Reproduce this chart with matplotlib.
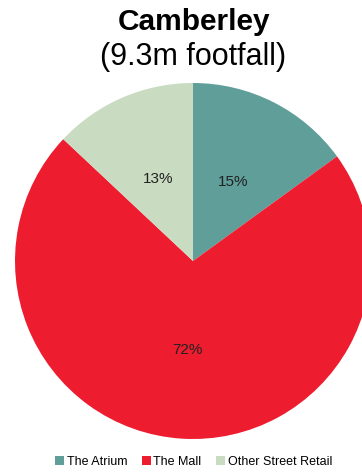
import matplotlib.pyplot as plt
from matplotlib.patches import Patch

segments = ['The Atrium', 'The Mall', 'Other Street Retail']
shares = [15, 72, 13]
colours = ['#5F9E99', '#EE1C2F', '#C9DCC1']

plt.rcParams['font.family'] = ['Liberation Sans', 'DejaVu Sans']

fig = plt.figure(figsize=(3.62, 4.72), dpi=100)
ax = fig.add_axes([0, 0, 1, 1])
ax.set_xlim(0, 362)
ax.set_ylim(0, 472)
ax.set_aspect('equal')

wedges, texts, autotexts = ax.pie(
    shares, colors=colours, startangle=90, counterclock=False,
    center=(193, 211), radius=178, autopct='%d%%', pctdistance=0.5,
    textprops={'fontsize': 11, 'color': '#222222'},
    wedgeprops={'linewidth': 0}, frame=True)
ax.axis('off')

fig.text(0.535, 1 - 22 / 472, 'Camberley', ha='center', va='center',
         fontsize=21.5, fontweight='bold')
fig.text(0.533, 1 - 57 / 472, '(9.3m footfall)', ha='center', va='center',
         fontsize=22)

handles = [Patch(facecolor=c, edgecolor='none') for c in colours]
fig.legend(handles, segments, loc='center', bbox_to_anchor=(0.535, 1 - 462 / 472),
           ncol=3, frameon=False, fontsize=9, handlelength=0.7, handleheight=0.7,
           handletextpad=0.2, columnspacing=1.2)

fig.savefig('out.png', dpi=100)
